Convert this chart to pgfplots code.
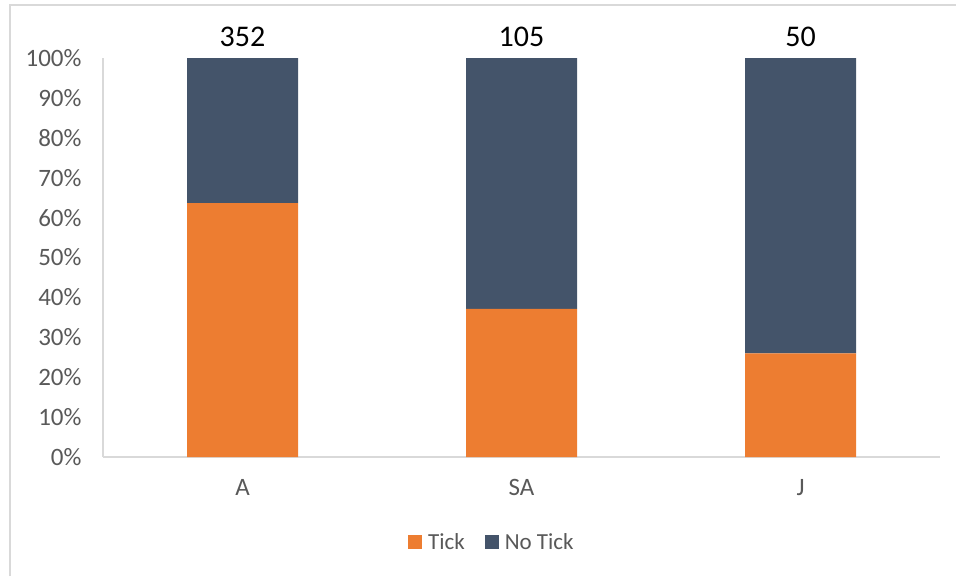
\documentclass[border=0pt]{standalone}
\usepackage{pgfplots}
\pgfplotsset{compat=1.18}
\usepackage{fontspec}
\setmainfont{Carlito}
\definecolor{tickor}{HTML}{ED7D31}
\definecolor{notick}{HTML}{44546A}
\definecolor{axgray}{HTML}{D9D9D9}
\definecolor{txtgray}{HTML}{595959}
\begin{document}
\begin{tikzpicture}[x=1pt,y=1pt]
\useasboundingbox (0,0) rectangle (956,-576);
\draw[axgray,line width=1.5pt] (10,-576) -- (10,-5) -- (956,-5);
\begin{axis}[
  at={(103pt,-457pt)}, anchor=south west,
  scale only axis, width=837pt, height=399pt,
  ybar stacked, bar width=111pt,
  xmin=-0.5, xmax=2.5, ymin=0, ymax=100,
  xtick=data, xticklabels={A,SA,J},
  ytick={0,10,...,100},
  yticklabel={\pgfmathprintnumber{\tick}\%},
  /pgf/number format/assume math mode=true,
  major tick length=0pt,
  axis lines*=left,
  axis line style={draw=axgray,line width=1.5pt,-},
  ticklabel style={text=txtgray},
  yticklabel style={font=\fontsize{25}{29}\selectfont, xshift=-18pt},
  xticklabel style={font=\fontsize{25}{29}\selectfont, yshift=-19pt},
  legend style={at={(0.467,-0.213)}, anchor=center, draw=none,
    legend columns=2, font=\fontsize{23}{27}\selectfont, text=txtgray,
    nodes={inner xsep=6pt},
    /tikz/every even column/.append style={column sep=14pt}},
  legend image code/.code={\fill[#1] (0pt,-7pt) rectangle (14pt,7pt);},
  clip=false,
]
\addplot[fill=tickor, draw=none] coordinates {(0,63.6) (1,37.1) (2,26.0)};
\addplot[fill=notick, draw=none] coordinates {(0,36.4) (1,62.9) (2,74.0)};
\legend{Tick, No Tick}
\node[anchor=base, font=\fontsize{30}{34}\selectfont, yshift=12pt] at (axis cs:0,100) {352};
\node[anchor=base, font=\fontsize{30}{34}\selectfont, yshift=12pt] at (axis cs:1,100) {105};
\node[anchor=base, font=\fontsize{30}{34}\selectfont, yshift=12pt] at (axis cs:2,100) {50};
\end{axis}
\end{tikzpicture}
\end{document}
